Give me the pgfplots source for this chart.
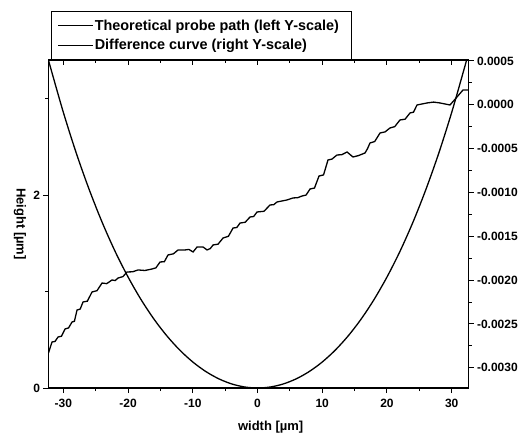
\documentclass[border=0pt]{standalone}
\usepackage{pgfplots}
\pgfplotsset{compat=1.18}
\usepackage{fontspec}
\setmainfont{Liberation Sans}
\newcommand{\tickfont}{\bfseries\fontsize{12}{14}\selectfont}
\newcommand{\labelfont}{\bfseries\fontsize{13}{15}\selectfont}
\newcommand{\legfont}{\bfseries\fontsize{14.4}{16}\selectfont}
\pgfplotstableread{
x y
-32.6 3.476
-32.3 3.40
-32 3.325
-30 2.856
-28 2.433
-26 2.055
-24 1.716
-22 1.415
-20 1.150
-18 0.9165
-16 0.7138
-14 0.5395
-12 0.3918
-10 0.2695
-8 0.1711
-6 0.0957
-4 0.0423
-2 0.0106
0 0
2 0.0106
4 0.0423
6 0.0957
8 0.1711
10 0.2695
12 0.3918
14 0.5395
16 0.7138
18 0.9165
20 1.150
22 1.415
24 1.716
26 2.055
28 2.433
30 2.856
32 3.325
32.3 3.40
32.6 3.476
}\probe
\pgfplotstableread{
x y
-32.3 -0.002831
-32.0 -0.002760
-31.75 -0.002705
-31.3 -0.002700
-30.82 -0.002648
-30.3 -0.002640
-29.74 -0.002557
-29.2 -0.002545
-28.66 -0.002477
-28.3 -0.002470
-27.89 -0.002341
-27.4 -0.002330
-26.96 -0.002249
-26.3 -0.002240
-25.57 -0.002135
-24.8 -0.002120
-24.03 -0.002033
-23.3 -0.002040
-22.48 -0.001998
-22.0 -0.002005
-21.55 -0.001976
-20.8 -0.001960
-20.16 -0.001907
-19.3 -0.001905
-18.47 -0.001884
-17.4 -0.001890
-16.30 -0.001873
-15.7 -0.001860
-15.06 -0.001793
-14.4 -0.001790
-13.83 -0.001713
-13.0 -0.001700
-12.28 -0.001656
-11.20 -0.001656
-10.6 -0.001650
-9.96 -0.001679
-9.34 -0.001622
-8.42 -0.001622
-7.80 -0.001656
-7.3 -0.001640
-6.87 -0.001599
-6.1 -0.001590
-5.33 -0.001520
-4.5 -0.001500
-3.78 -0.001406
-3.2 -0.001400
-2.70 -0.001349
-1.9 -0.001340
-1.16 -0.001280
-0.6 -0.001275
-0.08 -0.001223
1.0 -0.001215
1.93 -0.001143
2.5 -0.001140
3.01 -0.001109
4.56 -0.001086
5.48 -0.001063
6.2 -0.001060
6.87 -0.001041
7.5 -0.001030
8.11 -0.000961
8.8 -0.000950
9.50 -0.000813
10.2 -0.000800
10.89 -0.000630
11.5 -0.000620
12.28 -0.000573
13.0 -0.000570
13.83 -0.000539
14.75 -0.000596
15.6 -0.000580
16.61 -0.000550
17.0 -0.000500
17.38 -0.000436
18.1 -0.000420
18.93 -0.000322
19.7 -0.000310
20.47 -0.000265
21.2 -0.000250
22.01 -0.000174
22.8 -0.000165
23.56 -0.000094
24.1 -0.000085
24.64 -0.000003
26.19 0.000020
27.2 0.000030
28.20 0.000020
29.74 -0.000003
30.82 0.000088
31.75 0.000168
32.6 0.000168
}\diff
\begin{document}
\begin{tikzpicture}
\path[use as bounding box] (-48.5pt,-49pt) rectangle (474.5pt,388pt);
% left / bottom axis
\begin{axis}[
  at={(0pt,0pt)}, anchor=south west,
  scale only axis, width=420pt, height=328pt,
  xmin=-32.3, xmax=32.6, ymin=0, ymax=3.4,
  axis x line*=bottom, axis y line*=left,
  axis line style={-, line width=1.2pt},
  tick align=outside, major tick length=5pt, minor tick length=3pt,
  tick style={line width=1pt, black},
  xtick={-30,-20,-10,0,10,20,30}, minor xtick={-25,-15,-5,5,15,25},
  xticklabels={-30,-20,-10,0,10,20,30},
  ytick={0,2}, minor ytick={1,3}, yticklabels={0,2},
  ticklabel style={font=\tickfont},
  xticklabel style={yshift=-3pt},
  xlabel={width [µm]}, ylabel={Height [µm]},
  label style={font=\labelfont},
  xlabel style={at={(axis description cs:0.529,-0.118)}, anchor=center},
  ylabel style={at={(axis description cs:-0.068,0.5)}, anchor=center, rotate=180},
]
\addplot[black, line width=1.3pt, smooth] table {\probe};
\end{axis}
% right axis
\begin{axis}[
  at={(0pt,0pt)}, anchor=south west,
  scale only axis, width=420pt, height=328pt,
  xmin=-32.3, xmax=32.6, ymin=-0.00323, ymax=0.00051,
  axis x line=none, axis y line*=right,
  axis line style={-, line width=1.2pt},
  tick align=outside, major tick length=5pt, minor tick length=3pt,
  tick style={line width=1pt, black},
  scaled y ticks=false,
  ytick={-0.003,-0.0025,-0.002,-0.0015,-0.001,-0.0005,0,0.0005},
  yticklabels={-0.0030,-0.0025,-0.0020,-0.0015,-0.0010,-0.0005,0.0000,0.0005},
  minor ytick={-0.00275,-0.00225,-0.00175,-0.00125,-0.00075,-0.00025,0.00025},
  ticklabel style={font=\tickfont},
  legend style={at={(rel axis cs:0.006,1)}, anchor=south west,
    draw=black, line width=1pt, fill=white, inner xsep=6pt, inner ysep=7pt,
    font=\legfont, row sep=6pt, nodes={inner sep=1pt},
    /tikz/every even column/.append style={column sep=3pt}},
  legend cell align=left,
  legend image code/.code={\draw[#1] (0pt,0pt) -- (35pt,0pt);},
]
\addlegendimage{black, line width=1.1pt}
\addlegendentry{Theoretical probe path (left Y-scale)\hspace*{6pt}}
\addplot[black, line width=1.3pt] table {\diff};
\addlegendentry{Difference curve (right Y-scale)}
\end{axis}
% top axis
\begin{axis}[
  at={(0pt,0pt)}, anchor=south west,
  scale only axis, width=420pt, height=328pt,
  xmin=-32.3, xmax=32.6, ymin=0, ymax=1,
  axis x line*=top, axis y line=none,
  axis line style={-, line width=1.2pt},
  tick align=inside, major tick length=5pt, minor tick length=3pt,
  tick style={line width=1pt, black},
  xtick={-30,-20,-10,0,10,20,30}, minor xtick={-25,-15,-5,5,15,25},
  xticklabels={},
]
\end{axis}
\end{tikzpicture}
\end{document}
